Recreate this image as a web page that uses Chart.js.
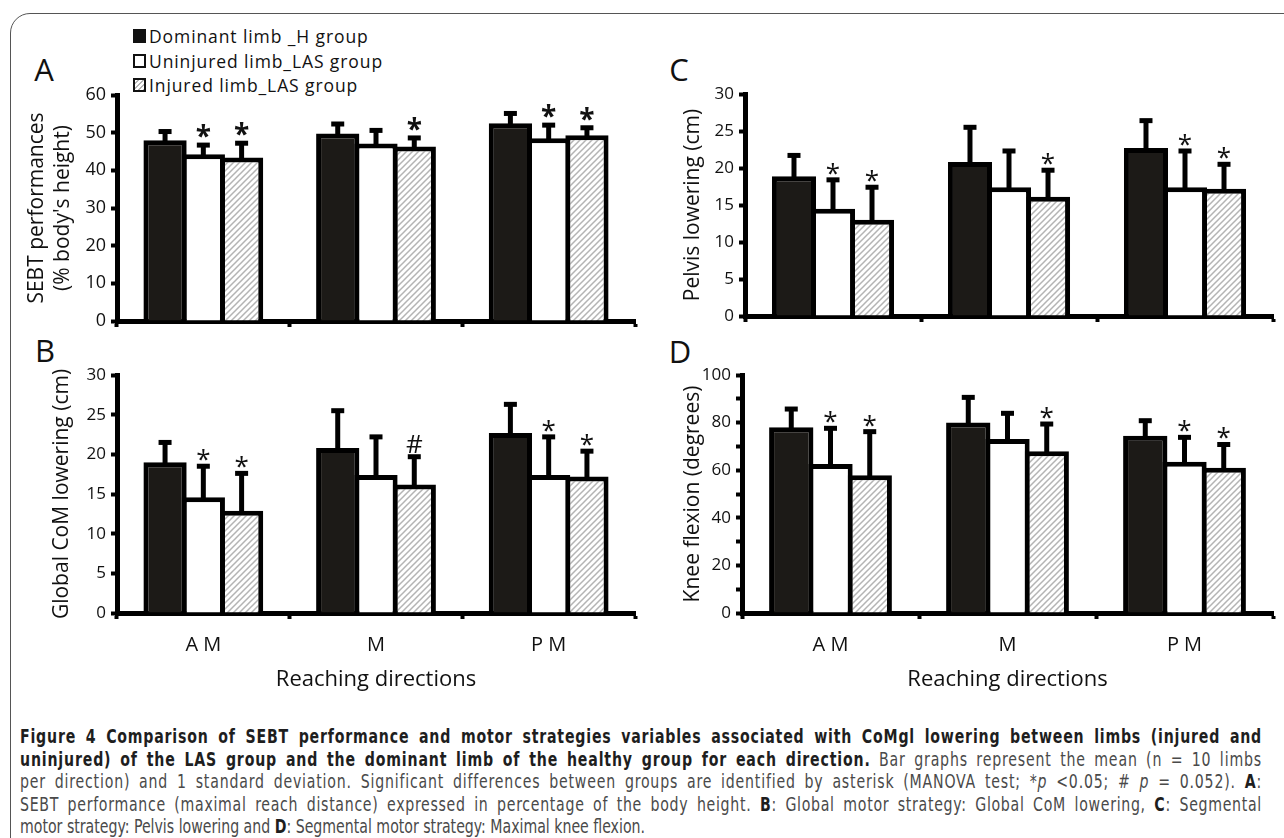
<!DOCTYPE html>
<html><head><meta charset="utf-8">
<script src="https://cdn.jsdelivr.net/npm/chart.js@4.4.1/dist/chart.umd.min.js"></script>
<style>
html,body{margin:0;padding:0;}
body{width:1284px;height:838px;overflow:hidden;background:#fff;position:relative;font-family:"Open Sans",sans-serif;color:#111;}
.frame{position:absolute;left:10px;top:13px;width:1320px;height:880px;border:1.5px solid #555;border-radius:20px;box-sizing:border-box;}
canvas{position:absolute;}
.letter{position:absolute;font-size:31px;line-height:1;transform:translate(-50%,-50%);color:#111;}
.legend{position:absolute;left:133px;top:24px;font-size:17.5px;letter-spacing:0.9px;color:#111;}
.legend .row{height:24.5px;display:flex;align-items:center;white-space:nowrap;}
.sw{width:13px;height:14px;box-sizing:border-box;border:2.5px solid #111;margin-right:3px;}
.cap{position:absolute;left:20px;white-space:nowrap;font-family:"Liberation Sans Narrow","DejaVu Sans Condensed","DejaVu Sans",sans-serif;font-size:19px;line-height:1;color:#4a4a4a;transform-origin:0 50%;}
.cap b{color:#1e1e1e;}
</style></head>
<body>
<div class="frame"></div>
<div class="letter" style="left:44px;top:69px">A</div>
<div class="letter" style="left:45px;top:350px">B</div>
<div class="letter" style="left:679px;top:69px">C</div>
<div class="letter" style="left:680px;top:351px">D</div>
<div class="legend" id="legend"></div>
<canvas id="cA" width="660" height="340" style="left:0;top:0"></canvas>
<canvas id="cB" width="660" height="380" style="left:0;top:330px"></canvas>
<canvas id="cC" width="644" height="340" style="left:640px;top:0"></canvas>
<canvas id="cD" width="644" height="380" style="left:640px;top:330px"></canvas>
<div class="cap" id="l1" style="top:727px"><b>Figure 4 Comparison of SEBT performance and motor strategies variables associated with CoMgl lowering between limbs (injured and</b></div>
<div class="cap" id="l2" style="top:749.5px"><b>uninjured) of the LAS group and the dominant limb of the healthy group for each direction.</b> Bar graphs represent the mean (n = 10 limbs</div>
<div class="cap" id="l3" style="top:772px">per direction) and 1 standard deviation. Significant differences between groups are identified by asterisk (MANOVA test; *<i>p</i> &lt;0.05; # <i>p</i> = 0.052). <b>A</b>:</div>
<div class="cap" id="l4" style="top:794.5px">SEBT performance (maximal reach distance) expressed in percentage of the body height. <b>B</b>: Global motor strategy: Global CoM lowering, <b>C</b>: Segmental</div>
<div class="cap" id="l5" style="top:817px">motor strategy: Pelvis lowering and <b>D</b>: Segmental motor strategy: Maximal knee flexion.</div>
<script>
// ---------- data ----------
const directions = ['A M', 'M', 'P M'];
const seriesNames = ['Dominant limb _H group', 'Uninjured limb_LAS group', 'Injured limb_LAS group'];
const xTitle = 'Reaching directions';

// Panel A: SEBT performances (% body's height)
const sebtDominant   = [48.0, 49.8, 52.5];
const sebtDominantSD = [2.3, 2.5, 2.6];
const sebtUninjured   = [44.3, 47.1, 48.5];
const sebtUninjuredSD = [2.4, 3.5, 3.5];
const sebtInjured   = [43.4, 46.3, 49.3];
const sebtInjuredSD = [3.8, 2.3, 2.0];
const sebtMarksDominant = ['', '', ''];
const sebtMarksUninjured = ['*', '', '*'];
const sebtMarksInjured = ['*', '*', '*'];
const sebtTicks = [0, 10, 20, 30, 40, 50, 60];

// Panel B: Global CoM lowering (cm)
const comDominant   = [19.0, 20.8, 22.7];
const comDominantSD = [2.5, 4.7, 3.6];
const comUninjured   = [14.6, 17.4, 17.4];
const comUninjuredSD = [3.9, 4.8, 4.8];
const comInjured   = [12.9, 16.2, 17.2];
const comInjuredSD = [4.7, 3.5, 3.2];
const comMarksDominant = ['', '', ''];
const comMarksUninjured = ['*', '', '*'];
const comMarksInjured = ['*', '#', '*'];
const comTicks = [0, 5, 10, 15, 20, 25, 30];

// Panel C: Pelvis lowering (cm)
const pelvisDominant   = [18.9, 20.8, 22.7];
const pelvisDominantSD = [2.8, 4.7, 3.7];
const pelvisUninjured   = [14.5, 17.4, 17.4];
const pelvisUninjuredSD = [3.9, 4.9, 4.9];
const pelvisInjured   = [13.0, 16.1, 17.2];
const pelvisInjuredSD = [4.4, 3.6, 3.3];
const pelvisMarksDominant = ['', '', ''];
const pelvisMarksUninjured = ['*', '', '*'];
const pelvisMarksInjured = ['*', '*', '*'];
const pelvisTicks = [0, 5, 10, 15, 20, 25, 30];

// Panel D: Knee flexion (degrees)
const kneeDominant   = [78.0, 80.0, 74.5];
const kneeDominantSD = [7.7, 10.6, 6.3];
const kneeUninjured   = [62.6, 73.1, 63.5];
const kneeUninjuredSD = [15.0, 10.8, 10.3];
const kneeInjured   = [57.9, 68.0, 61.0];
const kneeInjuredSD = [18.3, 11.4, 9.8];
const kneeMarksDominant = ['', '', ''];
const kneeMarksUninjured = ['*', '', '*'];
const kneeMarksInjured = ['*', '*', '*'];
const kneeTicks = [0, 20, 40, 60, 80, 100];

// ---------- helpers ----------
function hatchPattern(){
  const c = document.createElement('canvas'); c.width = 6; c.height = 6;
  const g = c.getContext('2d');
  g.fillStyle = '#fff'; g.fillRect(0,0,6,6);
  g.strokeStyle = '#b4b4b4'; g.lineWidth = 1.5;
  g.beginPath();
  g.moveTo(-1,7); g.lineTo(7,-1);
  g.moveTo(-4,4); g.lineTo(4,-4);
  g.moveTo(2,10); g.lineTo(10,2);
  g.stroke();
  return g.createPattern(c, 'repeat');
}

const errorBarPlugin = {
  id: 'errorBars',
  afterDatasetsDraw(chart){
    const ctx = chart.ctx, ys = chart.scales.y;
    const st = chart.options.plugins.errorBars;
    chart.data.datasets.forEach((ds, di) => {
      const meta = chart.getDatasetMeta(di);
      meta.data.forEach((bar, i) => {
        const yTop = ys.getPixelForValue(ds.data[i] + ds.sd[i]);
        ctx.save();
        ctx.strokeStyle = '#000'; ctx.lineWidth = 5;
        ctx.beginPath(); ctx.moveTo(bar.x, bar.y + 2); ctx.lineTo(bar.x, yTop); ctx.stroke();
        ctx.fillStyle = '#000';
        ctx.fillRect(bar.x - 6.5, yTop - 2.5, 13, 5);
        const m = ds.marks[i];
        if (m) {
          ctx.fillStyle = '#111';
          ctx.textAlign = 'center'; ctx.textBaseline = 'alphabetic';
          ctx.font = st.font;
          ctx.fillText(m, bar.x, yTop + (m === '#' ? st.hashOff : st.starOff));
        }
        ctx.restore();
      });
    });
  }
};

function makeChart(id, cfg){
  const hatch = hatchPattern();
  const fills = ['#1c1a17', '#ffffff', hatch];
  const datasets = cfg.series.map((s, k) => ({
    label: seriesNames[k],
    data: s.values, sd: s.sd, marks: s.marks,
    backgroundColor: fills[k], borderColor: '#000', borderWidth: 5,
    barPercentage: 1.13, categoryPercentage: 0.665
  }));
  const tickVals = cfg.ticks;
  return new Chart(document.getElementById(id), {
    type: 'bar',
    data: { labels: directions, datasets },
    plugins: [errorBarPlugin],
    options: {
      responsive: false, animation: false, devicePixelRatio: 1,
      layout: { padding: cfg.padding },
      plugins: {
        legend: { display: false }, tooltip: { enabled: false },
        errorBars: cfg.marksStyle
      },
      scales: {
        x: {
          afterFit: s => { s.height = cfg.xHeight; },
          grid: { display: true, drawOnChartArea: false, drawTicks: true, tickLength: 6, tickWidth: 4, tickColor: '#000', offset: true },
          border: { display: true, width: 5, color: '#000' },
          ticks: { display: cfg.showX, color: '#111', padding: 14, font: { family: 'Open Sans', size: 20 } },
          title: { display: cfg.showX, text: xTitle, color: '#111', padding: { top: 0, bottom: 17 }, font: { family: 'Open Sans', size: 22, lineHeight: 1.2 } }
        },
        y: {
          min: tickVals[0], max: tickVals[tickVals.length - 1],
          afterFit: s => { s.width = cfg.yWidth; },
          afterBuildTicks: s => {
            const out = [];
            for (let v = tickVals[0]; v <= tickVals[tickVals.length - 1] + 1e-9; v += cfg.minorStep) out.push({ value: v });
            s.ticks = out;
          },
          grid: { display: true, drawOnChartArea: false, drawTicks: true, tickLength: 6, tickWidth: 4, tickColor: '#000' },
          border: { display: true, width: 5, color: '#000' },
          ticks: {
            color: '#111', padding: 5, font: { family: 'Open Sans', size: cfg.tickSize },
            callback: v => (tickVals.includes(v) ? String(v) : '')
          },
          title: { display: true, text: cfg.yTitle, color: '#111', padding: { top: cfg.yTitlePad, bottom: 0 }, font: { family: 'Open Sans', size: 21, lineHeight: 1.25 } }
        }
      }
    }
  });
}

function buildLegend(){
  const lg = document.getElementById('legend');
  const swatches = ['background:#111', 'background:#fff', 'background:repeating-linear-gradient(135deg,#fff 0 2px,#b4b4b4 2px 3.5px)'];
  seriesNames.forEach((n, k) => {
    const r = document.createElement('div'); r.className = 'row';
    const s = document.createElement('span'); s.className = 'sw'; s.setAttribute('style', swatches[k]);
    const t = document.createElement('span'); t.textContent = n;
    r.appendChild(s); r.appendChild(t); lg.appendChild(r);
  });
}

// caption: condensed face emulated with scaleX; lines 1-4 justified to full width by tracking
function fitCaption(){
  const W = 1242, W5 = 625;
  const l5 = document.getElementById('l5');
  const s = W5 / l5.getBoundingClientRect().width;
  l5.style.transform = 'scaleX(' + s + ')';
  ['l1','l2','l3','l4'].forEach(id => {
    const el = document.getElementById(id);
    const w = el.getBoundingClientRect().width;
    const n = el.textContent.length;
    const extra = Math.max(0, (W / s - w) / n);
    el.style.letterSpacing = (extra * 0.6) + 'px';
    const nSp = (el.textContent.match(/ /g) || []).length;
    el.style.wordSpacing = (extra * 0.4 * n / nSp) + 'px';
    const w2 = el.getBoundingClientRect().width;
    el.style.transform = 'scaleX(' + (W / w2) + ')';
  });
}

function draw(){
  buildLegend();
  fitCaption();
  const starA = { font: 'bold 28px "Open Sans"', starOff: 1, hashOff: -4 };
  const starN = { font: '26px "Open Sans"', starOff: 2, hashOff: -4 };
  makeChart('cA', {
    series: [
      { values: sebtDominant, sd: sebtDominantSD, marks: sebtMarksDominant },
      { values: sebtUninjured, sd: sebtUninjuredSD, marks: sebtMarksUninjured },
      { values: sebtInjured, sd: sebtInjuredSD, marks: sebtMarksInjured }
    ],
    ticks: sebtTicks, minorStep: 10, tickSize: 18,
    yTitle: ['SEBT performances', "(% body's height)"], yTitlePad: 24,
    padding: { left: 0, right: 25, top: 95, bottom: 0 }, yWidth: 117, xHeight: 19, showX: false,
    marksStyle: starA
  });
  makeChart('cB', {
    series: [
      { values: comDominant, sd: comDominantSD, marks: comMarksDominant },
      { values: comUninjured, sd: comUninjuredSD, marks: comMarksUninjured },
      { values: comInjured, sd: comInjuredSD, marks: comMarksInjured }
    ],
    ticks: comTicks, minorStep: 5, tickSize: 17,
    yTitle: 'Global CoM lowering (cm)', yTitlePad: 49,
    padding: { left: 0, right: 25, top: 45, bottom: 0 }, yWidth: 117, xHeight: 97, showX: true,
    marksStyle: starN
  });
  makeChart('cC', {
    series: [
      { values: pelvisDominant, sd: pelvisDominantSD, marks: pelvisMarksDominant },
      { values: pelvisUninjured, sd: pelvisUninjuredSD, marks: pelvisMarksUninjured },
      { values: pelvisInjured, sd: pelvisInjuredSD, marks: pelvisMarksInjured }
    ],
    ticks: pelvisTicks, minorStep: 5, tickSize: 17,
    yTitle: 'Pelvis lowering (cm)', yTitlePad: 40,
    padding: { left: 0, right: 11, top: 94, bottom: 0 }, yWidth: 105, xHeight: 24, showX: false,
    marksStyle: starN
  });
  makeChart('cD', {
    series: [
      { values: kneeDominant, sd: kneeDominantSD, marks: kneeMarksDominant },
      { values: kneeUninjured, sd: kneeUninjuredSD, marks: kneeMarksUninjured },
      { values: kneeInjured, sd: kneeInjuredSD, marks: kneeMarksInjured }
    ],
    ticks: kneeTicks, minorStep: 10, tickSize: 17,
    yTitle: 'Knee flexion (degrees)', yTitlePad: 40,
    padding: { left: 0, right: 11, top: 45, bottom: 0 }, yWidth: 102, xHeight: 97, showX: true,
    marksStyle: starN
  });
}

Promise.all([
  document.fonts.load('20px "Open Sans"'),
  document.fonts.load('bold 20px "Open Sans"'),
  document.fonts.load('19px "DejaVu Sans"'),
  document.fonts.load('bold 19px "DejaVu Sans"')
]).catch(()=>{}).then(draw);
</script>
</body></html>
